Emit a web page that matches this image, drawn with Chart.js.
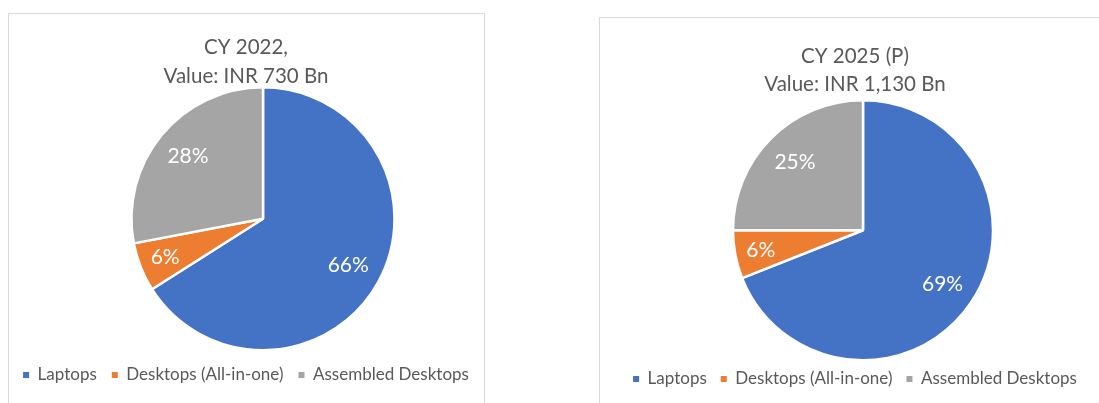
<!DOCTYPE html>
<html>
<head>
<meta charset="utf-8">
<script src="https://cdn.jsdelivr.net/npm/chart.js@4.4.0/dist/chart.umd.min.js"></script>
<style>
    html, body { margin: 0; padding: 0; background: #fff; width: 1099px; height: 403px; overflow: hidden; }
    .panel { position: absolute; border: 1px solid #D9D9D9; box-sizing: border-box; }
    canvas { position: absolute; display: block; }
</style>
</head>
<body>
<div class="panel" style="left:8px; top:13px; width:477px; height:420px;"></div>
<div class="panel" style="left:599px; top:17px; width:540px; height:420px;"></div>
<canvas id="chart2022" width="492" height="390" style="left:0px; top:13px;"></canvas>
<canvas id="chart2025" width="512" height="386" style="left:599px; top:17px;"></canvas>
<script>
// Datos
const categories = ['Laptops', 'Desktops (All-in-one)', 'Assembled Desktops'];
const share2022 = [66, 6, 28];
const share2025 = [69, 6, 25];
const title2022 = ['CY 2022,', 'Value: INR 730 Bn'];
const title2025 = ['CY 2025 (P)', 'Value: INR 1,130 Bn'];
const sliceColors = ['#4472C4', '#ED7D31', '#A5A5A5'];

const FONT = "Lato, 'Open Sans', sans-serif";

// Desplaza el área del gráfico (el pastel no está centrado en el panel)
const pieShift = {
    id: 'pieShift',
    afterLayout(chart, args, opts) {
        const a = chart.chartArea;
        a.left += opts.dx || 0; a.right += opts.dx || 0;
        a.top += opts.dy || 0; a.bottom += opts.dy || 0;
    }
};

// Etiquetas de porcentaje dentro de cada porción
const pctLabels = {
    id: 'pctLabels',
    afterDatasetsDraw(chart) {
        const ctx = chart.ctx;
        const meta = chart.getDatasetMeta(0);
        const values = chart.data.datasets[0].data;
        ctx.save();
        ctx.fillStyle = '#FFFFFF';
        ctx.font = '21px ' + FONT;
        ctx.textAlign = 'center';
        ctx.textBaseline = 'middle';
        meta.data.forEach((arc, i) => {
            const p = arc.getProps(['x', 'y', 'startAngle', 'endAngle', 'outerRadius'], true);
            const mid = (p.startAngle + p.endAngle) / 2;
            const r = p.outerRadius * (values[i] < 10 ? 0.8 : 0.74);
            ctx.fillText(values[i] + '%', p.x + Math.cos(mid) * r, p.y + Math.sin(mid) * r);
        });
        ctx.restore();
    }
};

function renderPie(canvasId, values, titleLines, cfg) {
    const ctx = document.getElementById(canvasId).getContext('2d');
    new Chart(ctx, {
        type: 'pie',
        data: {
            labels: categories,
            datasets: [{
                data: values,
                backgroundColor: sliceColors,
                borderColor: '#FFFFFF',
                borderWidth: 2.5
            }]
        },
        options: {
            responsive: false,
            animation: false,
            layout: { padding: { top: 0, left: 0, right: 0, bottom: cfg.bottom } },
            plugins: {
                title: {
                    display: true,
                    text: titleLines,
                    color: '#595959',
                    font: { family: FONT, size: 20.5, weight: 'normal', lineHeight: cfg.titleLine + 'px' },
                    padding: { top: cfg.titleTop, bottom: cfg.titleBottom }
                },
                legend: {
                    position: 'bottom',
                    labels: {
                        color: '#595959',
                        font: { family: FONT, size: 17 },
                        usePointStyle: true,
                        pointStyle: 'rect',
                        boxWidth: 6,
                        boxHeight: 6,
                        padding: cfg.legendPad,
                        generateLabels(chart) {
                            const items = Chart.overrides.pie.plugins.legend.labels.generateLabels(chart);
                            return items.map(it => Object.assign(it, { lineWidth: 0 }));
                        }
                    }
                },
                tooltip: { enabled: false },
                pieShift: { dx: cfg.dx, dy: cfg.dy }
            }
        },
        plugins: [pieShift, pctLabels]
    });
}

document.addEventListener('DOMContentLoaded', () => {
    renderPie('chart2022', share2022, title2022,
        { bottom: 9.5, titleTop: 20, titleLine: 29, titleBottom: -5, legendPad: 15, dx: 17, dy: 0 });
    renderPie('chart2025', share2025, title2025,
        { bottom: 5.5, titleTop: 25, titleLine: 28, titleBottom: -4, legendPad: 14, dx: 8, dy: 5 });
});
</script>
</body>
</html>
